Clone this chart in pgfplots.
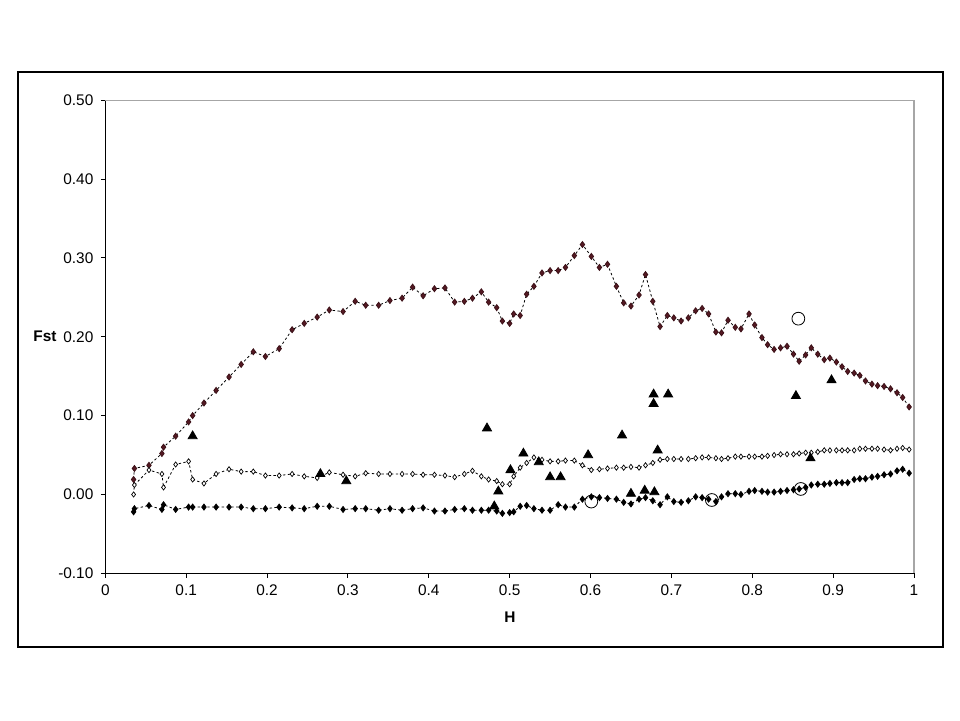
\documentclass[border=0pt]{standalone}
\usepackage{pgfplots}
\pgfplotsset{compat=1.18}
\usepackage{fontspec}
\setmainfont{Liberation Sans}
\definecolor{maroon}{RGB}{85,25,35}
\begin{document}
\fontsize{7.7}{9}\selectfont
\begin{tikzpicture}[x=1pt,y=1pt]
\path (0,0) rectangle (480,360);
\draw[black, line width=0.6pt] (9,36.5) rectangle (471.5,324);
\begin{axis}[
  scale only axis,
  width=404.35pt, height=236.5pt,
  at={(52.65pt,73.35pt)}, anchor=south west,
  xmin=0, xmax=1, ymin=-0.1, ymax=0.5,
  axis x line*=bottom, axis y line*=left,
  axis line style={black, line width=0.6pt},
  xtick={0,0.1,...,1.01}, ytick={-0.1,0,...,0.51},
  xticklabels={0,0.1,0.2,0.3,0.4,0.5,0.6,0.7,0.8,0.9,1},
  yticklabels={-0.10,0.00,0.10,0.20,0.30,0.40,0.50},
  tick align=outside, major tick length=2.2pt,
  tick style={black, line width=0.5pt},
  minor tick num=0,
  ticklabel style={font=\fontsize{7.7}{9}\selectfont},
  xticklabel style={yshift=-1pt},
  yticklabel style={xshift=-1pt},
  clip=false,
]
\draw[gray!70, line width=0.6pt] (rel axis cs:0,1) -- (rel axis cs:1,1) -- (rel axis cs:1,0);
% upper series
\addplot[black, line width=0.4pt, dash pattern=on 1.2pt off 1.2pt,
  mark=diamond*, mark size=1.5pt, mark options={solid, fill=maroon, draw=maroon!70!black}] coordinates {
(0.035,0.019)(0.036,0.033)(0.054,0.037)(0.070,0.052)(0.072,0.060)(0.087,0.074)
(0.103,0.092)(0.108,0.100)(0.122,0.116)(0.137,0.132)(0.153,0.149)(0.168,0.165)
(0.183,0.181)(0.198,0.175)(0.215,0.185)(0.231,0.209)(0.246,0.217)(0.262,0.225)
(0.277,0.234)(0.294,0.232)(0.309,0.245)(0.322,0.240)(0.338,0.240)(0.352,0.246)
(0.367,0.249)(0.380,0.263)(0.393,0.252)(0.407,0.261)(0.420,0.262)(0.432,0.244)
(0.444,0.245)(0.454,0.249)(0.465,0.257)(0.474,0.244)(0.484,0.237)(0.491,0.220)
(0.500,0.217)(0.505,0.229)(0.513,0.227)(0.521,0.254)(0.530,0.264)(0.540,0.281)
(0.550,0.284)(0.560,0.284)(0.569,0.288)(0.580,0.303)(0.590,0.317)(0.601,0.302)
(0.611,0.288)(0.621,0.292)(0.632,0.264)(0.641,0.243)(0.650,0.239)(0.660,0.253)
(0.668,0.279)(0.677,0.245)(0.686,0.213)(0.695,0.227)(0.703,0.224)(0.712,0.220)
(0.721,0.224)(0.730,0.233)(0.738,0.236)(0.746,0.229)(0.755,0.206)(0.762,0.205)
(0.770,0.221)(0.779,0.212)(0.786,0.210)(0.796,0.229)(0.803,0.215)(0.812,0.199)
(0.819,0.190)(0.827,0.184)(0.835,0.186)(0.843,0.188)(0.851,0.178)(0.858,0.169)
(0.866,0.177)(0.873,0.186)(0.881,0.178)(0.889,0.171)(0.896,0.173)(0.904,0.168)
(0.911,0.162)(0.918,0.156)(0.926,0.154)(0.933,0.151)(0.940,0.144)(0.948,0.140)
(0.955,0.138)(0.963,0.137)(0.971,0.134)(0.979,0.129)(0.986,0.123)(0.994,0.111)
};
% middle series
\addplot[black, line width=0.4pt, dash pattern=on 1.2pt off 1.2pt,
  mark=diamond*, mark size=1.3pt, mark options={solid, fill=white, draw=black, line width=0.35pt}] coordinates {
(0.035,0.000)(0.036,0.012)(0.054,0.031)(0.070,0.026)(0.072,0.009)(0.087,0.038)
(0.103,0.042)(0.108,0.019)(0.122,0.014)(0.137,0.026)(0.153,0.032)(0.168,0.029)
(0.183,0.029)(0.198,0.024)(0.215,0.024)(0.231,0.026)(0.246,0.023)(0.262,0.021)
(0.277,0.028)(0.294,0.025)(0.309,0.023)(0.322,0.027)(0.338,0.026)(0.352,0.026)
(0.367,0.026)(0.380,0.026)(0.393,0.025)(0.407,0.025)(0.420,0.024)(0.432,0.022)
(0.444,0.026)(0.454,0.030)(0.465,0.023)(0.474,0.019)(0.484,0.017)(0.491,0.013)
(0.500,0.013)(0.505,0.023)(0.513,0.034)(0.521,0.040)(0.530,0.047)(0.540,0.044)
(0.550,0.042)(0.560,0.042)(0.569,0.043)(0.580,0.043)(0.590,0.037)(0.601,0.031)
(0.611,0.032)(0.621,0.033)(0.632,0.034)(0.641,0.034)(0.650,0.035)(0.660,0.034)
(0.668,0.037)(0.677,0.040)(0.686,0.044)(0.695,0.045)(0.703,0.045)(0.712,0.045)
(0.721,0.045)(0.730,0.046)(0.738,0.047)(0.746,0.047)(0.755,0.046)(0.762,0.045)
(0.770,0.046)(0.779,0.048)(0.786,0.048)(0.796,0.048)(0.803,0.048)(0.812,0.048)
(0.819,0.049)(0.827,0.050)(0.835,0.051)(0.843,0.051)(0.851,0.051)(0.858,0.052)
(0.866,0.053)(0.873,0.053)(0.881,0.054)(0.889,0.056)(0.896,0.056)(0.904,0.056)
(0.911,0.056)(0.918,0.056)(0.926,0.056)(0.933,0.058)(0.940,0.058)(0.948,0.058)
(0.955,0.058)(0.963,0.057)(0.971,0.056)(0.979,0.058)(0.986,0.059)(0.994,0.057)
};
% lower series
\addplot[black, line width=0.4pt, dash pattern=on 1.2pt off 1.2pt,
  mark=diamond*, mark size=1.5pt, mark options={solid, fill=black, draw=black}] coordinates {
(0.035,-0.022)(0.036,-0.018)(0.054,-0.014)(0.070,-0.019)(0.072,-0.013)(0.087,-0.019)
(0.103,-0.016)(0.108,-0.016)(0.122,-0.016)(0.137,-0.016)(0.153,-0.016)(0.168,-0.016)
(0.183,-0.018)(0.198,-0.018)(0.215,-0.016)(0.231,-0.017)(0.246,-0.018)(0.262,-0.015)
(0.277,-0.015)(0.294,-0.019)(0.309,-0.018)(0.322,-0.018)(0.338,-0.020)(0.352,-0.018)
(0.367,-0.020)(0.380,-0.018)(0.393,-0.017)(0.407,-0.021)(0.420,-0.021)(0.432,-0.019)
(0.444,-0.018)(0.454,-0.020)(0.465,-0.020)(0.474,-0.020)(0.484,-0.021)(0.491,-0.024)
(0.500,-0.023)(0.505,-0.022)(0.513,-0.015)(0.521,-0.014)(0.530,-0.018)(0.540,-0.020)
(0.550,-0.020)(0.560,-0.013)(0.569,-0.016)(0.580,-0.016)(0.590,-0.006)(0.601,-0.003)
(0.611,-0.004)(0.621,-0.005)(0.632,-0.006)(0.641,-0.010)(0.650,-0.012)(0.660,-0.006)
(0.668,-0.004)(0.677,-0.008)(0.686,-0.013)(0.695,-0.003)(0.703,-0.009)(0.712,-0.010)
(0.721,-0.008)(0.730,-0.003)(0.738,-0.004)(0.746,-0.006)(0.755,-0.009)(0.762,-0.003)
(0.770,0.001)(0.779,0.001)(0.786,0.000)(0.796,0.004)(0.803,0.005)(0.812,0.004)
(0.819,0.003)(0.827,0.003)(0.835,0.004)(0.843,0.005)(0.851,0.006)(0.858,0.007)
(0.866,0.009)(0.873,0.012)(0.881,0.013)(0.889,0.013)(0.896,0.014)(0.904,0.015)
(0.911,0.015)(0.918,0.015)(0.926,0.019)(0.933,0.020)(0.940,0.020)(0.948,0.022)
(0.955,0.023)(0.963,0.025)(0.971,0.026)(0.979,0.030)(0.986,0.032)(0.994,0.027)
};
% triangles
\addplot[only marks, mark=triangle*, mark size=2.6pt, mark options={fill=black, draw=black}] coordinates {
(0.108,0.074)(0.266,0.026)(0.298,0.017)(0.472,0.084)(0.517,0.052)(0.501,0.031)
(0.486,0.004)(0.536,0.041)(0.550,0.022)(0.563,0.022)(0.597,0.050)(0.639,0.075)
(0.481,-0.015)(0.650,0.001)(0.667,0.005)(0.678,0.127)(0.678,0.115)(0.696,0.127)
(0.683,0.056)(0.679,0.003)(0.854,0.125)(0.898,0.145)(0.872,0.046)
};
% large open circles
\addplot[only marks, mark=o, mark size=3.2pt, mark options={draw=black, line width=0.4pt}] coordinates {
(0.601,-0.009)(0.750,-0.007)(0.860,0.007)(0.857,0.223)
};
\end{axis}
\node[font=\bfseries\fontsize{7.7}{9}\selectfont] at (22.5,191.7) {Fst};
\node[font=\bfseries\fontsize{7.7}{9}\selectfont] at (255,51.5) {H};
\end{tikzpicture}
\end{document}
